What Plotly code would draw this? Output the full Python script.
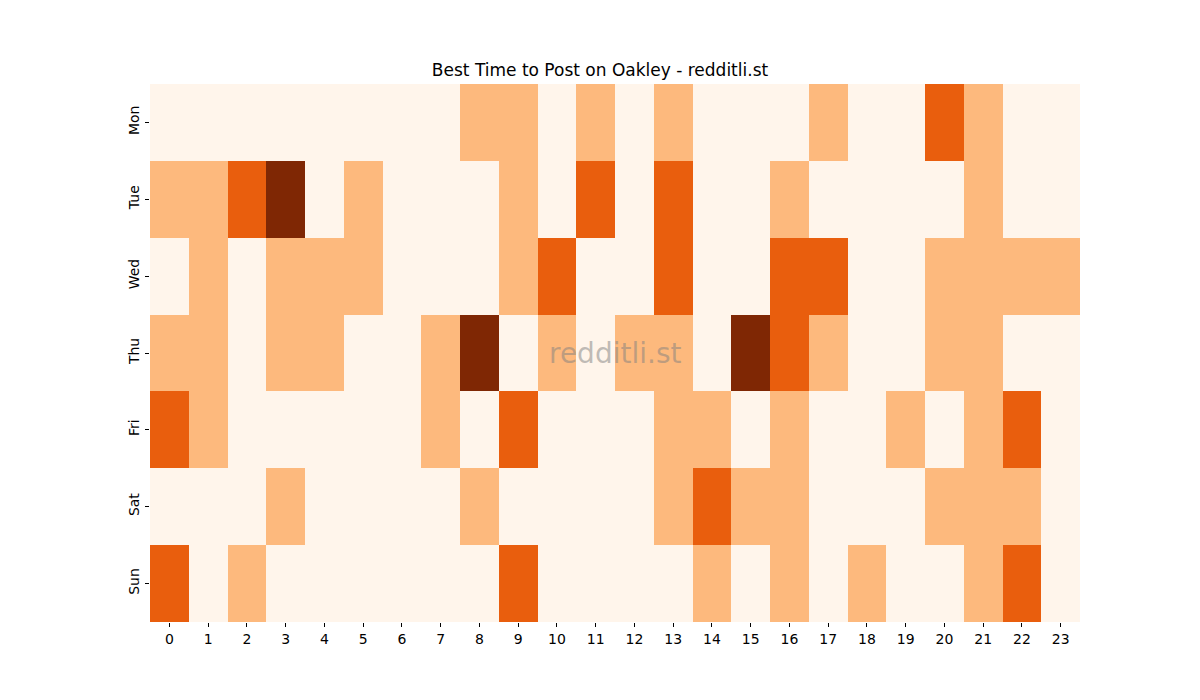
import plotly.graph_objects as go

days = ["Mon", "Tue", "Wed", "Thu", "Fri", "Sat", "Sun"]
hours = list(range(24))
tick_labels = [str(h) for h in hours]

mon = [0,0,0,0,0,0,0,0,1,1,0,1,0,1,0,0,0,1,0,0,2,1,0,0]
tue = [1,1,2,3,0,1,0,0,0,1,0,2,0,2,0,0,1,0,0,0,0,1,0,0]
wed = [0,1,0,1,1,1,0,0,0,1,2,0,0,2,0,0,2,2,0,0,1,1,1,1]
thu = [1,1,0,1,1,0,0,1,3,0,1,0,1,1,0,3,2,1,0,0,1,1,0,0]
fri = [2,1,0,0,0,0,0,1,0,2,0,0,0,1,1,0,1,0,0,1,0,1,2,0]
sat = [0,0,0,1,0,0,0,0,1,0,0,0,0,1,2,1,1,0,0,0,1,1,1,0]
sun = [2,0,1,0,0,0,0,0,0,2,0,0,0,0,1,0,1,0,1,0,0,1,2,0]

z = [mon, tue, wed, thu, fri, sat, sun]

colorscale = [
    [0.0, "#fff5eb"], [0.125, "#fee6ce"], [0.25, "#fdd0a2"], [0.375, "#fdae6b"],
    [0.5, "#fd8d3c"], [0.625, "#f16913"], [0.75, "#d94801"], [0.875, "#a63603"],
    [1.0, "#7f2704"],
]

fig = go.Figure(go.Heatmap(
    z=z, x=hours, y=days, colorscale=colorscale, zmin=0, zmax=3,
    showscale=False, xgap=0, ygap=0,
))

fig.update_layout(
    width=1200, height=700,
    margin=dict(l=150, r=120, t=84, b=78),
    paper_bgcolor="white", plot_bgcolor="white",
    font=dict(family="DejaVu Sans", size=14, color="black"),
    title=dict(text="Best Time to Post on Oakley - redditli.st", x=0.5, xanchor="center",
               y=1 - 70/700, yanchor="middle", font=dict(size=17, color="black")),
    xaxis=dict(tickmode="array", tickvals=hours, ticktext=tick_labels, ticks="outside",
               ticklen=4, tickcolor="black", showgrid=False, zeroline=False,
               range=[-0.5, 23.5], showline=False, tickfont=dict(size=14)),
    yaxis=dict(autorange="reversed", ticks="outside", ticklen=4, tickcolor="black",
               showgrid=False, zeroline=False, tickangle=-90, showline=False,
               tickfont=dict(size=14)),
    annotations=[dict(text="redditli.st", x=0.5, y=0.5, xref="paper", yref="paper",
                      showarrow=False, font=dict(size=28, color="rgba(128,128,128,0.5)"))],
)

fig.write_html("out.html")
